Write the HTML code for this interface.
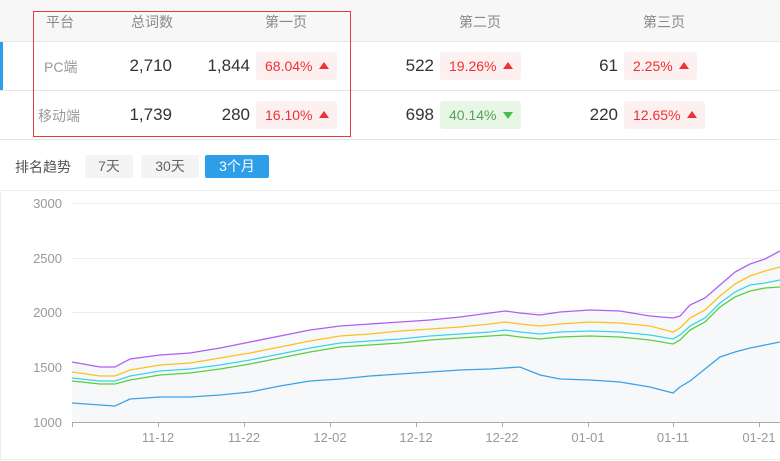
<!DOCTYPE html><html><head><meta charset="utf-8"><style>
body{margin:0;width:780px;height:461px;overflow:hidden;background:#fff;font-family:"Liberation Sans","Noto Sans CJK SC",sans-serif;position:relative}
.a{position:absolute;white-space:nowrap}
.h{color:#888;font-size:14px;top:12px}
.n{color:#333;font-size:17px;text-align:right}
.b{position:absolute;height:28px;border-radius:3px;font-size:14px;line-height:28px;padding-left:9px;box-sizing:border-box}
.r{background:#fdf0f0;color:#f23030}.g{background:#e8f6e6;color:#5aa05a}
.up:after{content:"";position:absolute;right:8px;top:10px;border-left:5px solid transparent;border-right:5px solid transparent;border-bottom:7px solid #f23030}
.dn:after{content:"";position:absolute;right:8px;top:11px;border-left:5px solid transparent;border-right:5px solid transparent;border-top:7px solid #4cba4c}
.btn{position:absolute;top:155px;height:23px;line-height:23px;text-align:center;font-size:14px;border-radius:2px;background:#f4f4f4;color:#666}
</style></head><body>
<div class="a" style="left:0;top:0;width:780px;height:41px;background:#f7f7f7;border-bottom:1px solid #e6e6e6"></div>
<div class="a" style="left:0;top:90px;width:780px;height:1px;background:#e6e6e6"></div>
<div class="a" style="left:0;top:139px;width:780px;height:1px;background:#e6e6e6"></div>
<div class="a" style="left:0;top:42px;width:3px;height:48px;background:#2d9fe8"></div>
<div class="a" style="left:33px;top:11px;width:316px;height:124px;border:1px solid #e83a3a"></div>
<div class="a h" style="left:46px">平台</div>
<div class="a h" style="left:131px">总词数</div>
<div class="a h" style="left:265px">第一页</div>
<div class="a h" style="left:459px">第二页</div>
<div class="a h" style="left:643px">第三页</div>
<div class="a" style="left:44px;top:57px;color:#999;font-size:14px">PC端</div>
<div class="a" style="left:38px;top:106px;color:#999;font-size:14px">移动端</div>
<div class="a n" style="left:100px;width:72px;top:56px">2,710</div>
<div class="a n" style="left:178px;width:72px;top:56px">1,844</div>
<div class="b r up" style="left:256px;top:52px;width:81px">68.04%</div>
<div class="a n" style="left:362px;width:72px;top:56px">522</div>
<div class="b r up" style="left:440px;top:52px;width:81px">19.26%</div>
<div class="a n" style="left:546px;width:72px;top:56px">61</div>
<div class="b r up" style="left:624px;top:52px;width:73px">2.25%</div>
<div class="a n" style="left:100px;width:72px;top:105px">1,739</div>
<div class="a n" style="left:178px;width:72px;top:105px">280</div>
<div class="b r up" style="left:256px;top:101px;width:81px">16.10%</div>
<div class="a n" style="left:362px;width:72px;top:105px">698</div>
<div class="b g dn" style="left:440px;top:101px;width:81px">40.14%</div>
<div class="a n" style="left:546px;width:72px;top:105px">220</div>
<div class="b r up" style="left:624px;top:101px;width:81px">12.65%</div>
<div class="a" style="left:15px;top:157px;color:#555;font-size:14px">排名趋势</div>
<div class="btn" style="left:85px;width:48px">7天</div>
<div class="btn" style="left:141px;width:58px">30天</div>
<div class="btn" style="left:205px;width:64px;background:#2d9fe8;color:#fff">3个月</div>
<div class="a" style="left:0;top:190px;width:779px;height:268px;border:1px solid #eee;border-right:none"></div>
<svg class="a" style="left:0;top:0" width="780" height="461">
<g stroke="#ececec" stroke-width="1">
<line x1="72" y1="203.5" x2="780" y2="203.5"/><line x1="72" y1="258.5" x2="780" y2="258.5"/><line x1="72" y1="312.5" x2="780" y2="312.5"/><line x1="72" y1="367.5" x2="780" y2="367.5"/></g>
<polygon fill="#f7f8fa" points="72,422 72,362 100,367 115,367 130,359 160,355 190,353 220,348 250,342 280,336 310,330 340,326 370,324 400,322 430,320 460,317 490,313 505,311 520,313 540,315 560,312 590,310 620,311 650,316 673,318 680,316 690,305 705,298 720,285 735,272 750,264 765,259 780,251 780,422"/>
<line x1="72" y1="422.5" x2="780" y2="422.5" stroke="#aaa"/>
<g stroke="#aaa"><line x1="72.5" y1="422" x2="72.5" y2="427"/><line x1="158.5" y1="422" x2="158.5" y2="427"/><line x1="244.5" y1="422" x2="244.5" y2="427"/><line x1="330.5" y1="422" x2="330.5" y2="427"/><line x1="416.5" y1="422" x2="416.5" y2="427"/><line x1="502.5" y1="422" x2="502.5" y2="427"/><line x1="588.5" y1="422" x2="588.5" y2="427"/><line x1="673.5" y1="422" x2="673.5" y2="427"/><line x1="759.5" y1="422" x2="759.5" y2="427"/></g>
<g fill="#999" font-size="13" font-family="Liberation Sans,sans-serif">
<g text-anchor="end"><text x="62" y="208">3000</text><text x="62" y="263">2500</text><text x="62" y="317">2000</text><text x="62" y="372">1500</text><text x="62" y="427">1000</text></g>
<g text-anchor="middle"><text x="158" y="442">11-12</text><text x="244" y="442">11-22</text><text x="330" y="442">12-02</text><text x="416" y="442">12-12</text><text x="502" y="442">12-22</text><text x="588" y="442">01-01</text><text x="673" y="442">01-11</text><text x="759" y="442">01-21</text></g></g>
<g fill="none" stroke-width="1.3">
<polyline stroke="#b05ef0" points="72,362 100,367 115,367 130,359 160,355 190,353 220,348 250,342 280,336 310,330 340,326 370,324 400,322 430,320 460,317 490,313 505,311 520,313 540,315 560,312 590,310 620,311 650,316 673,318 680,316 690,305 705,298 720,285 735,272 750,264 765,259 780,251"/>
<polyline stroke="#fcc21b" points="72,372 100,376 115,376 130,370 160,365 190,363 220,358 250,353 280,347 310,341 340,336 370,334 400,331 430,329 460,327 490,324 505,322 520,324 540,326 560,324 590,322 620,323 650,326 673,332 680,328 690,318 705,310 720,296 735,284 750,276 765,271 780,267"/>
<polyline stroke="#3ad4e8" points="72,378 100,381 115,381 130,376 160,371 190,369 220,365 250,360 280,354 310,348 340,343 370,341 400,339 430,336 460,334 490,332 505,330 520,332 540,334 560,332 590,331 620,332 650,335 673,339 680,335 690,326 705,318 720,303 735,292 750,285 765,283 780,280"/>
<polyline stroke="#5ccf3c" points="72,381 100,384 115,384 130,380 160,375 190,373 220,369 250,364 280,358 310,352 340,347 370,345 400,343 430,340 460,338 490,336 505,335 520,337 540,339 560,337 590,336 620,337 650,340 673,344 680,340 690,330 705,322 720,307 735,297 750,291 765,288 780,287"/>
<polyline stroke="#3aa3e8" points="72,403 100,405 115,406 130,399 160,397 190,397 220,395 250,392 280,386 310,381 340,379 370,376 400,374 430,372 460,370 490,369 505,368 520,367 540,375 560,379 590,380 620,382 650,387 673,393 680,387 690,381 705,369 720,357 735,352 750,348 765,345 780,342"/>
</g></svg>
</body></html>
